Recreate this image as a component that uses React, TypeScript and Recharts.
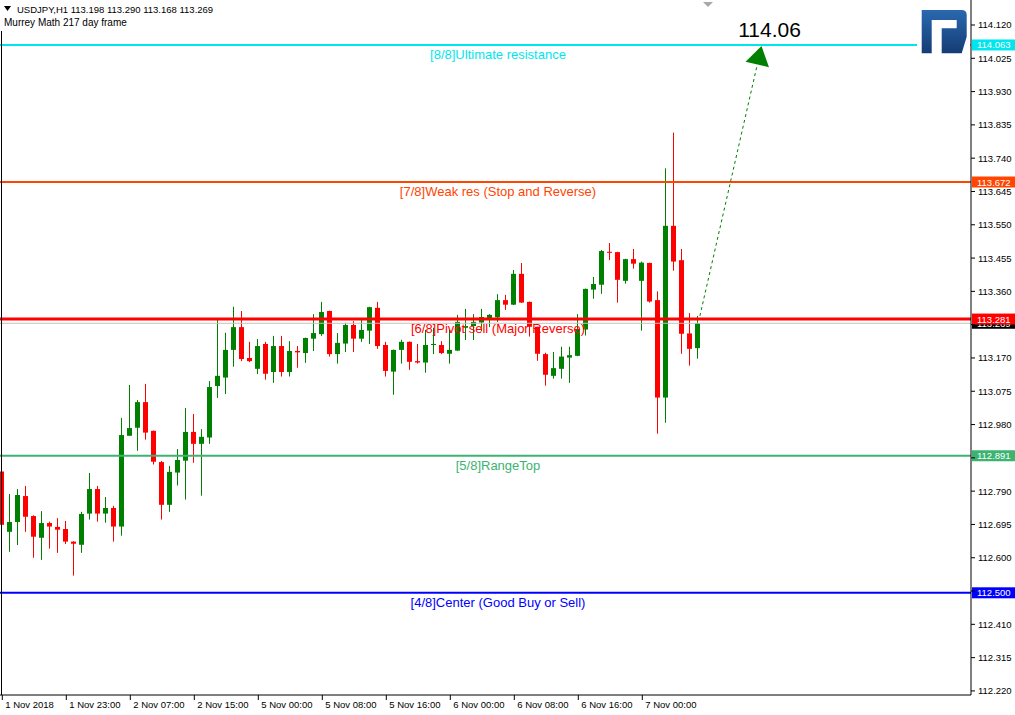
import React from 'react';
import { ComposedChart, Bar, XAxis, YAxis, ReferenceLine } from 'recharts';

// ---- data (USDJPY H1, candles from 1 Nov 15:00 to 7 Nov 07:00) ----
const opens = [
  112.846, 112.674, 112.702, 112.776, 112.719, 112.657, 112.699, 112.688, 112.682, 112.646,
  112.637, 112.726, 112.796, 112.726, 112.742, 112.689, 112.948, 112.971, 113.044, 112.962,
  112.873, 112.751, 112.843, 112.877, 112.959, 112.925, 112.943, 113.090, 113.114, 113.193,
  113.258, 113.170, 113.139, 113.210, 113.130, 113.204, 113.130, 113.190, 113.184, 113.225,
  113.238, 113.304, 113.181, 113.211, 113.264, 113.225, 113.248, 113.313, 113.207, 113.131,
  113.193, 113.216, 113.161, 113.157, 113.207, 113.207, 113.182, 113.191, 113.256, 113.261,
  113.271, 113.284, 113.286, 113.335, 113.322, 113.410, 113.330, 113.259, 113.181, 113.119,
  113.139, 113.171, 113.176, 113.251, 113.365, 113.379, 113.473, 113.472, 113.390, 113.452,
  113.390, 113.441, 113.335, 113.057, 113.547, 113.449, 113.240, 113.198,
];
const highs = [
  112.853, 112.782, 112.796, 112.805, 112.721, 112.733, 112.703, 112.713, 112.705, 112.647,
  112.731, 112.842, 112.805, 112.773, 112.748, 112.999, 113.093, 113.050, 113.096, 112.963,
  112.876, 112.862, 112.910, 113.027, 113.010, 112.967, 113.104, 113.278, 113.242, 113.316,
  113.304, 113.216, 113.224, 113.216, 113.233, 113.233, 113.218, 113.204, 113.228, 113.295,
  113.330, 113.305, 113.241, 113.270, 113.275, 113.278, 113.316, 113.330, 113.216, 113.194,
  113.222, 113.217, 113.210, 113.250, 113.256, 113.218, 113.250, 113.293, 113.310, 113.295,
  113.310, 113.295, 113.352, 113.350, 113.421, 113.441, 113.331, 113.259, 113.185, 113.187,
  113.202, 113.202, 113.295, 113.368, 113.401, 113.478, 113.498, 113.473, 113.453, 113.481,
  113.445, 113.442, 113.360, 113.711, 113.813, 113.481, 113.298, 113.290,
];
const lows = [
  112.682, 112.617, 112.636, 112.674, 112.600, 112.594, 112.626, 112.614, 112.639, 112.549,
  112.614, 112.709, 112.703, 112.700, 112.646, 112.663, 112.948, 112.905, 112.937, 112.866,
  112.709, 112.731, 112.806, 112.766, 112.871, 112.777, 112.925, 113.056, 113.067, 113.145,
  113.161, 113.158, 113.124, 113.108, 113.099, 113.117, 113.117, 113.142, 113.156, 113.190,
  113.233, 113.174, 113.154, 113.187, 113.187, 113.216, 113.210, 113.196, 113.117, 113.065,
  113.154, 113.136, 113.154, 113.128, 113.181, 113.181, 113.154, 113.190, 113.221, 113.221,
  113.247, 113.258, 113.273, 113.307, 113.321, 113.327, 113.231, 113.162, 113.091, 113.111,
  113.111, 113.099, 113.175, 113.234, 113.339, 113.353, 113.449, 113.328, 113.382, 113.425,
  113.248, 113.328, 112.954, 112.985, 113.419, 113.182, 113.148, 113.168,
];
const closes = [
  112.694, 112.702, 112.779, 112.717, 112.660, 112.699, 112.689, 112.680, 112.646, 112.640,
  112.725, 112.796, 112.726, 112.742, 112.689, 112.950, 112.970, 113.044, 112.957, 112.874,
  112.751, 112.845, 112.879, 112.959, 112.925, 112.945, 113.087, 113.119, 113.193, 113.258,
  113.167, 113.161, 113.204, 113.125, 113.204, 113.130, 113.190, 113.186, 113.227, 113.241,
  113.301, 113.181, 113.213, 113.264, 113.225, 113.250, 113.315, 113.204, 113.133, 113.193,
  113.216, 113.159, 113.157, 113.207, 113.210, 113.184, 113.193, 113.273, 113.261, 113.273,
  113.287, 113.293, 113.335, 113.322, 113.410, 113.328, 113.259, 113.182, 113.122, 113.141,
  113.174, 113.178, 113.252, 113.367, 113.381, 113.475, 113.470, 113.393, 113.452, 113.439,
  113.442, 113.331, 113.057, 113.547, 113.445, 113.239, 113.196, 113.269,
];

const tickIdx = [0, 8, 16, 24, 32, 40, 48, 56, 64, 72, 80];
const tickLabels = [
  '1 Nov 2018', '1 Nov 23:00', '2 Nov 07:00', '2 Nov 15:00', '5 Nov 00:00', '5 Nov 08:00',
  '5 Nov 16:00', '6 Nov 00:00', '6 Nov 08:00', '6 Nov 16:00', '7 Nov 00:00',
];
const yTicks = [
  114.12, 114.025, 113.93, 113.835, 113.74, 113.645, 113.55, 113.455, 113.36, 113.265, 113.17,
  113.075, 112.98, 112.885, 112.79, 112.695, 112.6, 112.505, 112.41, 112.315, 112.22,
];
// tick labels that sit under a price box on the right scale
const coveredTicks = [113.265, 112.885, 112.505];

const murreyLevels = [114.063, 113.672, 113.281, 112.891, 112.5];
const murreyLabels = [
  '[8/8]Ultimate resistance',
  '[7/8]Weak res (Stop and Reverse)',
  '[6/8]Pivot sell (Major Reverse)',
  '[5/8]RangeTop',
  '[4/8]Center (Good Buy or Sell)',
];
const murreyColors = ['#00e6ee', '#ff4500', '#ff0000', '#3cb371', '#0000ff'];
const murreyWidths = [2, 2, 3, 2, 2];

const bidPrice = 113.269;
const targetPrice = 114.06;
const arrowStartIdx = 87.2;
const arrowStartPrice = 113.29;
const arrowEndIdx = 94.9;

const headerText = 'USDJPY,H1  113.198 113.290 113.168 113.269';
const indicatorName = 'Murrey Math 217 day frame';

const Y_DOMAIN: [number, number] = [112.2084, 114.1913];
const X_DOMAIN: [number, number] = [-0.2875, 121.0875];

const data = opens.map((o, i) => ({
  i,
  open: o,
  high: highs[i],
  low: lows[i],
  close: closes[i],
  range: [lows[i], highs[i]],
}));

const FONT = "'Liberation Sans', Arial, sans-serif";

const Candle = (props: any) => {
  const { x, y, width, height, payload } = props;
  if (x == null || payload == null) return null;
  const { open, close, high, low } = payload;
  const top = Math.min(y, y + height);
  const h = Math.abs(height);
  const k = high > low ? h / (high - low) : 0;
  const py = (v: number) => top + (high - v) * k;
  const cx = Math.floor(x + width / 2) + 0.5;
  const up = close >= open;
  const color = up ? '#008000' : '#ff0000';
  const yO = py(open);
  const yC = py(close);
  const bTop = Math.min(yO, yC);
  const bH = Math.max(1, Math.abs(yO - yC));
  return (
    <g>
      <line x1={cx} x2={cx} y1={top} y2={top + h} stroke={color} strokeWidth={1} />
      <rect x={cx - 2.5} y={bTop} width={5} height={bH} fill={color} />
    </g>
  );
};

const LevelLabel = (props: any) => {
  const { viewBox, text, color, value } = props;
  if (!viewBox) return null;
  const { x, y, width } = viewBox;
  return (
    <g>
      {text ? (
        <text x={x + 498} y={y + 14} textAnchor="middle" fill={color} fontSize={13} fontFamily={FONT}>
          {text}
        </text>
      ) : null}
      <rect x={x + width + 1} y={y - 5.5} width={44} height={11} fill={color} />
      <text x={x + width + 6} y={y + 3.5} fill="#ffffff" fontSize={9.5} fontFamily={FONT}>
        {value.toFixed(3)}
      </text>
    </g>
  );
};

const ArrowShape = (props: any) => {
  const { x1, y1, x2, y2 } = props;
  if (x1 == null) return null;
  const dx = x2 - x1;
  const dy = y2 - y1;
  const len = Math.sqrt(dx * dx + dy * dy) || 1;
  const ux = dx / len;
  const uy = dy / len;
  const nx = -uy;
  const ny = ux;
  const headLen = 19;
  const half = 12;
  const bx = x2 - ux * headLen;
  const by = y2 - uy * headLen;
  return (
    <g>
      <line x1={x1} y1={y1} x2={bx} y2={by} stroke="#008000" strokeWidth={1} strokeDasharray="3 3" />
      <polygon
        points={`${x2},${y2} ${bx + nx * half},${by + ny * half} ${bx - nx * half},${by - ny * half}`}
        fill="#008000"
      />
      <text x={x2 + 8} y={y2 - 9.5} textAnchor="middle" fontSize={21} fill="#000" fontFamily={FONT}>
        {targetPrice.toFixed(2)}
      </text>
    </g>
  );
};

const XTick = (props: any) => {
  const { x, y, payload } = props;
  const k = tickIdx.indexOf(payload.value);
  return (
    <text x={x + 3} y={y + 8} fontSize={9.5} fill="#000" fontFamily={FONT}>
      {k >= 0 ? tickLabels[k] : ''}
    </text>
  );
};

const YTick = (props: any) => {
  const { x, y, payload } = props;
  const v = Number(payload.value);
  if (coveredTicks.some((c) => Math.abs(c - v) < 1e-6)) return <g />;
  return (
    <text x={x} y={y + 3.5} fontSize={9.5} fill="#000" fontFamily={FONT}>
      {v.toFixed(3)}
    </text>
  );
};

export default function App() {
  return (
    <div style={{ position: 'absolute', left: 0, top: 0, width: 1015, height: 715, background: '#fff' }}>
      <ComposedChart width={1015} height={715} data={data} margin={{ top: 0, right: 0, bottom: 0, left: 0 }}>
        <XAxis
          dataKey="i"
          type="number"
          domain={X_DOMAIN}
          allowDataOverflow
          ticks={tickIdx}
          interval={0}
          height={20}
          tickSize={5}
          tickMargin={0}
          axisLine={{ stroke: '#000' }}
          tickLine={{ stroke: '#000' }}
          tick={<XTick />}
        />
        <YAxis
          orientation="right"
          type="number"
          domain={Y_DOMAIN}
          allowDataOverflow
          ticks={yTicks}
          interval={0}
          width={44}
          tickSize={4}
          tickMargin={3}
          axisLine={{ stroke: '#000' }}
          tickLine={{ stroke: '#000' }}
          tick={<YTick />}
        />
        <Bar dataKey="range" barSize={5} shape={<Candle />} isAnimationActive={false} />
        <ReferenceLine
          y={bidPrice}
          stroke="#c0c0c0"
          strokeWidth={1}
          label={<LevelLabel color="#000000" value={bidPrice} />}
        />
        {murreyLevels.map((lvl, k) => (
          <ReferenceLine
            key={k}
            y={lvl}
            stroke={murreyColors[k]}
            strokeWidth={murreyWidths[k]}
            label={<LevelLabel text={murreyLabels[k]} color={murreyColors[k]} value={lvl} />}
          />
        ))}
        <ReferenceLine
          segment={[
            { x: arrowStartIdx, y: arrowStartPrice },
            { x: arrowEndIdx, y: targetPrice },
          ]}
          stroke="#008000"
          shape={<ArrowShape />}
        />
      </ComposedChart>
      <svg
        width={1015}
        height={715}
        style={{ position: 'absolute', left: 0, top: 0, pointerEvents: 'none' }}
      >
        <defs>
          <linearGradient id="logoGrad" x1="0" y1="0" x2="0" y2="1">
            <stop offset="0%" stopColor="#2a68b0" />
            <stop offset="100%" stopColor="#153c74" />
          </linearGradient>
        </defs>
        <line x1={1.5} y1={31} x2={1.5} y2={695} stroke="#000" strokeWidth={1} />
        <polygon points="4,6 11,6 7.5,11" fill="#000" />
        <text x={17} y={13} fontSize={9.5} fill="#000" fontFamily={FONT}>
          {headerText}
        </text>
        <text x={4} y={26} fontSize={10} fill="#000" fontFamily={FONT}>
          {indicatorName}
        </text>
        <polygon points="703,2 713,2 708,7" fill="#a8a8a8" />
        <rect x={917} y={4} width={53} height={54} fill="#fff" />
        <path
          d="M921.7,10 L961.7,10 Q966.7,10 966.7,15 L966.7,36.7 L961.7,53.3 L941.7,53.3 L941.7,28.3 L956.7,28.3 L956.7,20 L931.7,20 L931.7,53.3 L921.7,53.3 Z"
          fill="url(#logoGrad)"
        />
      </svg>
    </div>
  );
}
